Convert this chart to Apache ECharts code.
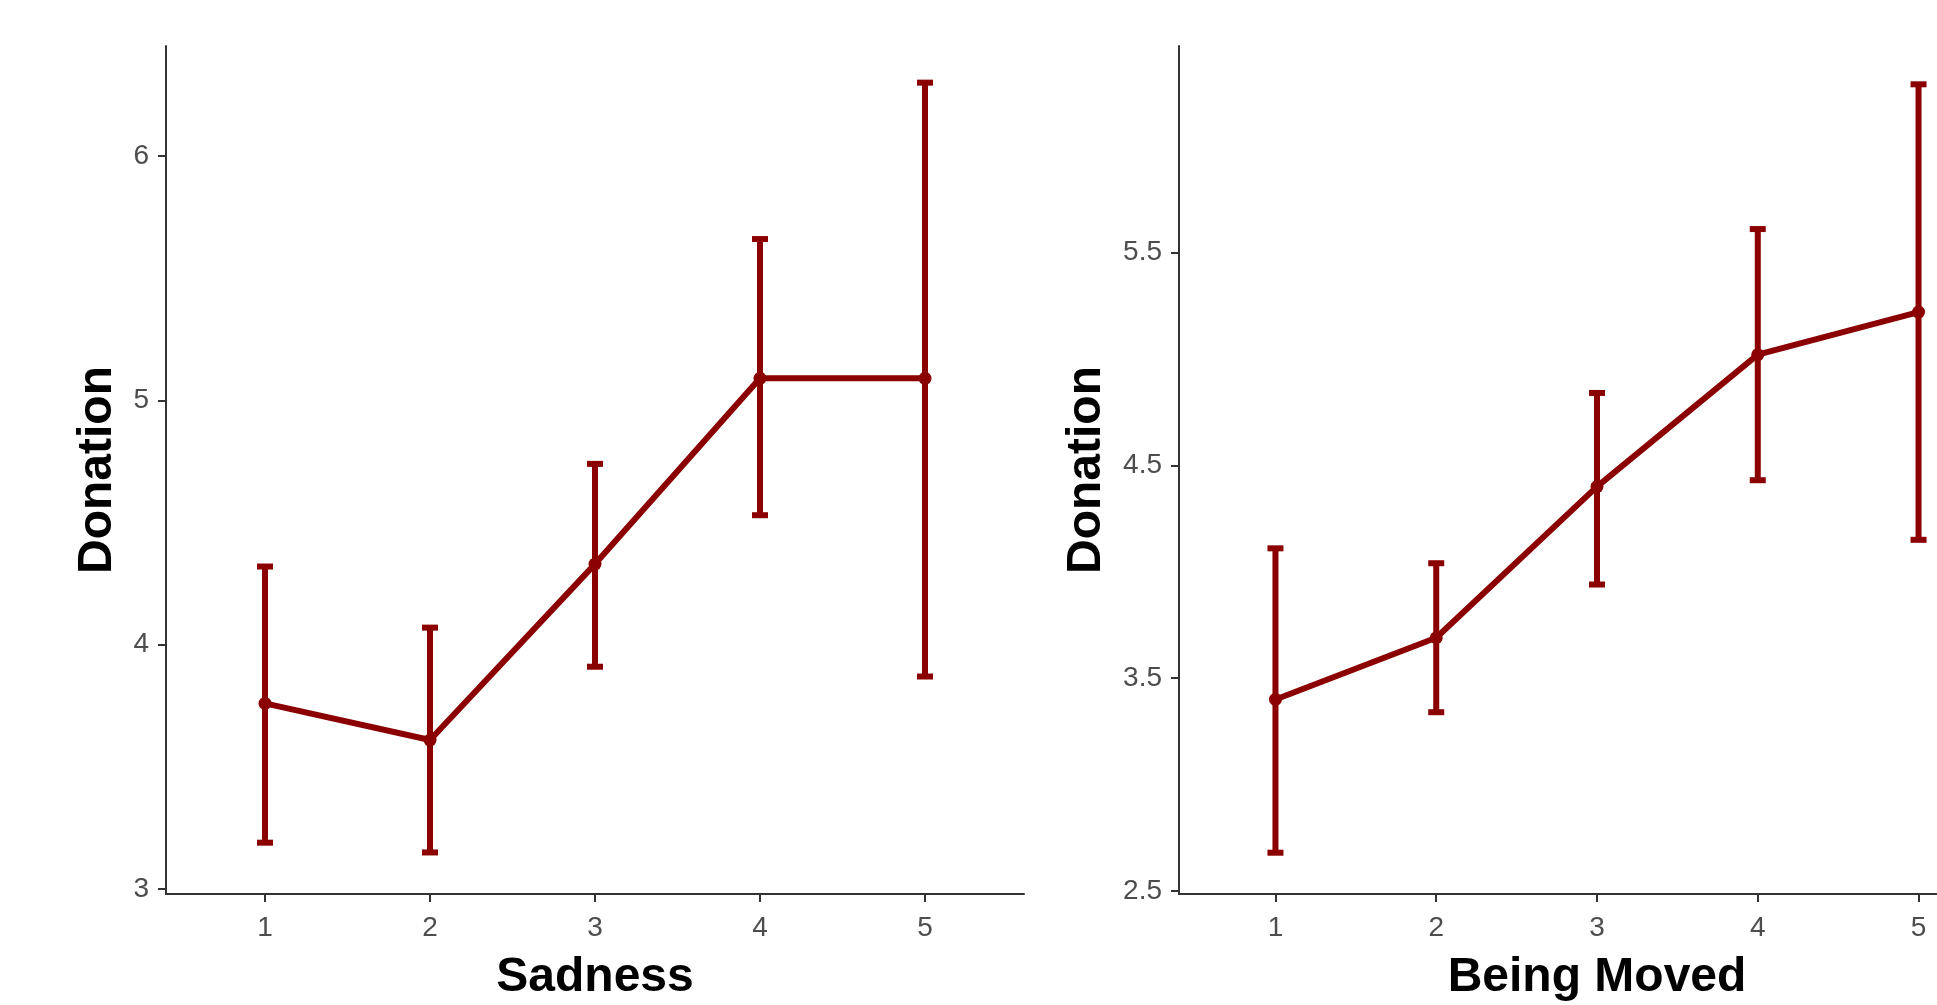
<!DOCTYPE html>
<html>
<head>
<meta charset="utf-8">
<title>Donation by Sadness and Being Moved</title>
<script src="https://cdn.jsdelivr.net/npm/echarts@6/dist/echarts.min.js"></script>
<style>
  html, body { margin: 0; padding: 0; background: #fff; }
  #chart { width: 1937px; height: 1005px; }
</style>
</head>
<body>
<div id="chart"></div>
<script>
// rating levels on both x axes
const levels = [1, 2, 3, 4, 5];

// left panel: Sadness
const sadnessMean = [3.76, 3.61, 4.33, 5.09, 5.09];
const sadnessLow  = [3.19, 3.15, 3.91, 4.53, 3.87];
const sadnessHigh = [4.32, 4.07, 4.74, 5.66, 6.30];

// right panel: Being Moved
const movedMean = [3.40, 3.69, 4.40, 5.02, 5.22];
const movedLow  = [2.68, 3.34, 3.94, 4.43, 4.15];
const movedHigh = [4.11, 4.04, 4.84, 5.61, 6.29];

const sadnessTicks = [3, 4, 5, 6];
const movedTicks = [2.5, 3.5, 4.5, 5.5];

const RED = '#8B0000';
const FONT = 'Liberation Sans, Arial, sans-serif';

function pairs(xs, ys) {
    return xs.map((x, i) => [x, ys[i]]);
}

function errorRows(xs, lo, hi) {
    return xs.map((x, i) => [x, lo[i], hi[i]]);
}

// vertical bar with a cap at each end
function renderErrorBar(params, api) {
    const x = api.value(0);
    const lo = api.coord([x, api.value(1)]);
    const hi = api.coord([x, api.value(2)]);
    const half = 8;
    const style = { stroke: RED, lineWidth: 6, fill: null };
    return {
        type: 'group',
        children: [
            { type: 'line', shape: { x1: lo[0], y1: lo[1], x2: hi[0], y2: hi[1] }, style: style },
            { type: 'line', shape: { x1: lo[0] - half, y1: lo[1], x2: lo[0] + half, y2: lo[1] }, style: style },
            { type: 'line', shape: { x1: hi[0] - half, y1: hi[1], x2: hi[0] + half, y2: hi[1] }, style: style }
        ]
    };
}

const axisLine = { show: true, lineStyle: { color: '#333', width: 2 } };
const titleStyle = { fontSize: 48, fontWeight: 'bold', color: '#000', fontFamily: FONT };

function xAxisFor(gridIndex, name) {
    return {
        type: 'value', gridIndex: gridIndex, min: 0.4, max: 5.6,
        name: name, nameLocation: 'middle', nameGap: 60, nameTextStyle: titleStyle,
        axisLine: axisLine,
        axisTick: { show: true, length: 8, lineStyle: { color: '#333', width: 2 }, customValues: levels },
        axisLabel: { customValues: levels, margin: 20, fontSize: 28, color: '#4d4d4d', fontFamily: FONT },
        splitLine: { show: false }
    };
}

function yAxisFor(gridIndex, min, max, ticks, gap) {
    return {
        type: 'value', gridIndex: gridIndex, min: min, max: max,
        name: 'Donation', nameLocation: 'middle', nameGap: gap, nameTextStyle: titleStyle,
        axisLine: axisLine,
        axisTick: { show: true, length: 8, lineStyle: { color: '#333', width: 2 }, customValues: ticks },
        axisLabel: { customValues: ticks, margin: 17, fontSize: 28, color: '#4d4d4d', fontFamily: FONT },
        splitLine: { show: false }
    };
}

function meanLine(index, data) {
    return {
        type: 'line', xAxisIndex: index, yAxisIndex: index, data: data,
        symbol: 'circle', symbolSize: 13, z: 3,
        itemStyle: { color: RED },
        lineStyle: { color: RED, width: 6 }
    };
}

function errorSeries(index, data) {
    return {
        type: 'custom', xAxisIndex: index, yAxisIndex: index, data: data,
        renderItem: renderErrorBar, z: 2
    };
}

const chart = echarts.init(document.getElementById('chart'));
chart.setOption({
    backgroundColor: '#fff',
    animation: false,
    grid: [
        { left: 166, top: 46, width: 858, height: 848, outerBoundsMode: 'none' },
        { left: 1179, top: 46, width: 836, height: 848, outerBoundsMode: 'none' }
    ],
    xAxis: [xAxisFor(0, 'Sadness'), xAxisFor(1, 'Being Moved')],
    yAxis: [
        yAxisFor(0, 2.98, 6.45, sadnessTicks, 44),
        yAxisFor(1, 2.486, 6.47, movedTicks, 68)
    ],
    series: [
        errorSeries(0, errorRows(levels, sadnessLow, sadnessHigh)),
        meanLine(0, pairs(levels, sadnessMean)),
        errorSeries(1, errorRows(levels, movedLow, movedHigh)),
        meanLine(1, pairs(levels, movedMean))
    ]
});
</script>
</body>
</html>
